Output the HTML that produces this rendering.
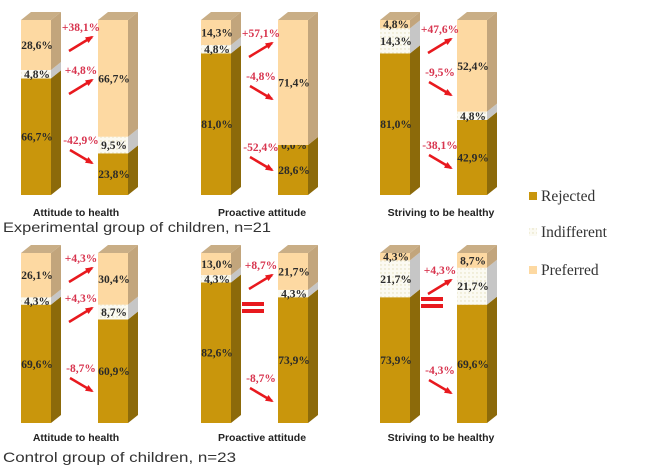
<!DOCTYPE html>
<html><head><meta charset="utf-8">
<style>
body{margin:0;background:#fff;width:650px;height:472px;overflow:hidden}
svg{display:block}
</style></head><body>
<svg id="chart" width="650" height="472" xmlns="http://www.w3.org/2000/svg"></svg>
<script>
// ---- data ----
const categories = ["Attitude to health","Proactive attitude","Striving to be healthy"];
const seriesNames = ["Rejected","Indifferent","Preferred"];
const expBefore = [[66.7,4.8,28.6],[81.0,4.8,14.3],[81.0,14.3,4.8]];
const expAfter  = [[23.8,9.5,66.7],[28.6,0.0,71.4],[42.9,4.8,52.4]];
const expDelta  = [[-42.9,4.8,38.1],[-52.4,-4.8,57.1],[-38.1,-9.5,47.6]];
const ctlBefore = [[69.6,4.3,26.1],[82.6,4.3,13.0],[73.9,21.7,4.3]];
const ctlAfter  = [[60.9,8.7,30.4],[73.9,4.3,21.7],[69.6,21.7,8.7]];
const ctlDelta  = [[-8.7,4.3,4.3],[-8.7,0,8.7],[-4.3,0,4.3]];
const groupTitles = ["Experimental group of children, n=21","Control group of children, n=23"];

// ---- layout ----
const NS="http://www.w3.org/2000/svg";
const svg=document.getElementById('chart');
const panelX=[21,201,380];
const catOff=[55,61,61];
const rightOff=77, W=30, DX=10, DY=8;
const rows=[{top:20,bot:195,catY:216,capY:232,capLen:268,before:expBefore,after:expAfter,delta:expDelta,lab:[[140,70,27],[147,76,33],[145,72,29]]},
            {top:253,bot:423,catY:441,capY:462,capLen:233,before:ctlBefore,after:ctlAfter,delta:ctlDelta,lab:[[368,298,258],[378,305,265],[370,300,270]]}];
const front=["#C9960C","#FBFAF2","#FDD9A2"], side=["#8C6A0A","#C6C6C6","#C2A57C"], topc=["#A78A3A","#D8D8D8","#C9AE86"];
function el(tag,attrs,parent){const e=document.createElementNS(NS,tag);for(const k in attrs)e.setAttribute(k,attrs[k]);(parent||svg).appendChild(e);return e;}
function fmt(v){return v.toFixed(1).replace('.',',')+'%';}

const defs=el('defs',{});
const pat=el('pattern',{id:'dots',width:4,height:4,patternUnits:'userSpaceOnUse'},defs);
el('rect',{width:4,height:4,fill:'#FBFAF2'},pat);
el('circle',{cx:1,cy:1,r:0.7,fill:'#E3DDB8'},pat);

function drawBar(x,row,vals,name){
  const g=el('g',{});
  
  
  const H=row.bot-row.top;
  const total=vals.reduce((a,b)=>a+b,0);
  const ys=v=>H*v/total;
  let y=row.bot; let topIdx=0;
  vals.forEach((v,i)=>{
    const h=ys(v); const y1=y-h;
    if(h>0){
      const r=el('rect',{x:x,y:y1,width:W,height:h,fill:i===1?'url(#dots)':front[i]},g);
      
      
      el('polygon',{points:`${x+W},${y} ${x+W+DX},${y-DY} ${x+W+DX},${y1-DY} ${x+W},${y1}`,fill:side[i]},g);
      topIdx=i;
    }
    const t=el('text',{x:x+W/2+1,y:y-h/2+4,'text-anchor':'middle','font-family':'Liberation Serif, serif','font-weight':'bold','font-size':'11.5',fill:'#2a2a2a'},g);
    t.textContent=fmt(v);
    
    
    y=y1;
  });
  el('polygon',{points:`${x},${row.top} ${x+W},${row.top} ${x+W+DX},${row.top-DY} ${x+DX},${row.top-DY}`,fill:topc[topIdx]},g);
}

rows.forEach((row,ri)=>{
  categories.forEach((c,pi)=>{
    const L=panelX[pi];
    drawBar(L,row,row.before[pi],'bar-before');
    drawBar(L+rightOff,row,row.after[pi],'bar-after');
    row.delta[pi].forEach((d,si)=>{
      const ly=row.lab[pi][si];
      const g=el('g',{});
      
      
      if(d===0){
        el('rect',{x:L+41,y:ly-3,width:22,height:4,fill:'#E8191E'},g);
        el('rect',{x:L+41,y:ly+4,width:22,height:4,fill:'#E8191E'},g);
        return;
      }
      const t=el('text',{x:L+60,y:ly+4,'text-anchor':'middle','font-family':'Liberation Serif, serif','font-weight':'bold','font-size':'11.5',fill:'#D8354F'},g);
      t.textContent=(d>0?'+':'')+fmt(d);
      let x1,y1,x2,y2;
      if(d>0){x1=L+48;y1=ly+24;x2=L+71;y2=ly+10;}else{x1=L+49;y1=ly+10;x2=L+71;y2=ly+23;}
      el('line',{x1:x1,y1:y1,x2:x2,y2:y2,stroke:'#E8191E','stroke-width':2.5},g);
      const ang=Math.atan2(y2-y1,x2-x1);const s=7;
      const p1=[x2-s*Math.cos(ang-0.5),y2-s*Math.sin(ang-0.5)],p2=[x2-s*Math.cos(ang+0.5),y2-s*Math.sin(ang+0.5)];
      el('polygon',{points:`${x2+2*Math.cos(ang)},${y2+2*Math.sin(ang)} ${p1} ${p2}`,fill:'#E8191E'},g);
    });
    const ct=el('text',{x:L+catOff[pi],y:row.catY,'text-anchor':'middle','font-family':'Liberation Sans, sans-serif','font-weight':'bold','font-size':'10.5',fill:'#222'});
    ct.textContent=c;
    
    
  });
  const cap=el('text',{x:3,y:row.capY,'font-family':'Liberation Sans, sans-serif','font-size':'14',fill:'#333',textLength:row.capLen,lengthAdjust:'spacingAndGlyphs'});
  cap.textContent=groupTitles[ri];
  
  
});

const legY=[196,232,270];
seriesNames.forEach((n,i)=>{
  const g=el('g',{});
  
  
  el('rect',{x:529,y:legY[i]-4,width:8,height:8,fill:i===1?'url(#dots)':front[i]},g);
  const t=el('text',{x:541,y:legY[i]+5,'font-family':'Liberation Serif, serif','font-size':'15.5',fill:'#333'},g);
  t.textContent=n;
});
</script>
</body></html>
